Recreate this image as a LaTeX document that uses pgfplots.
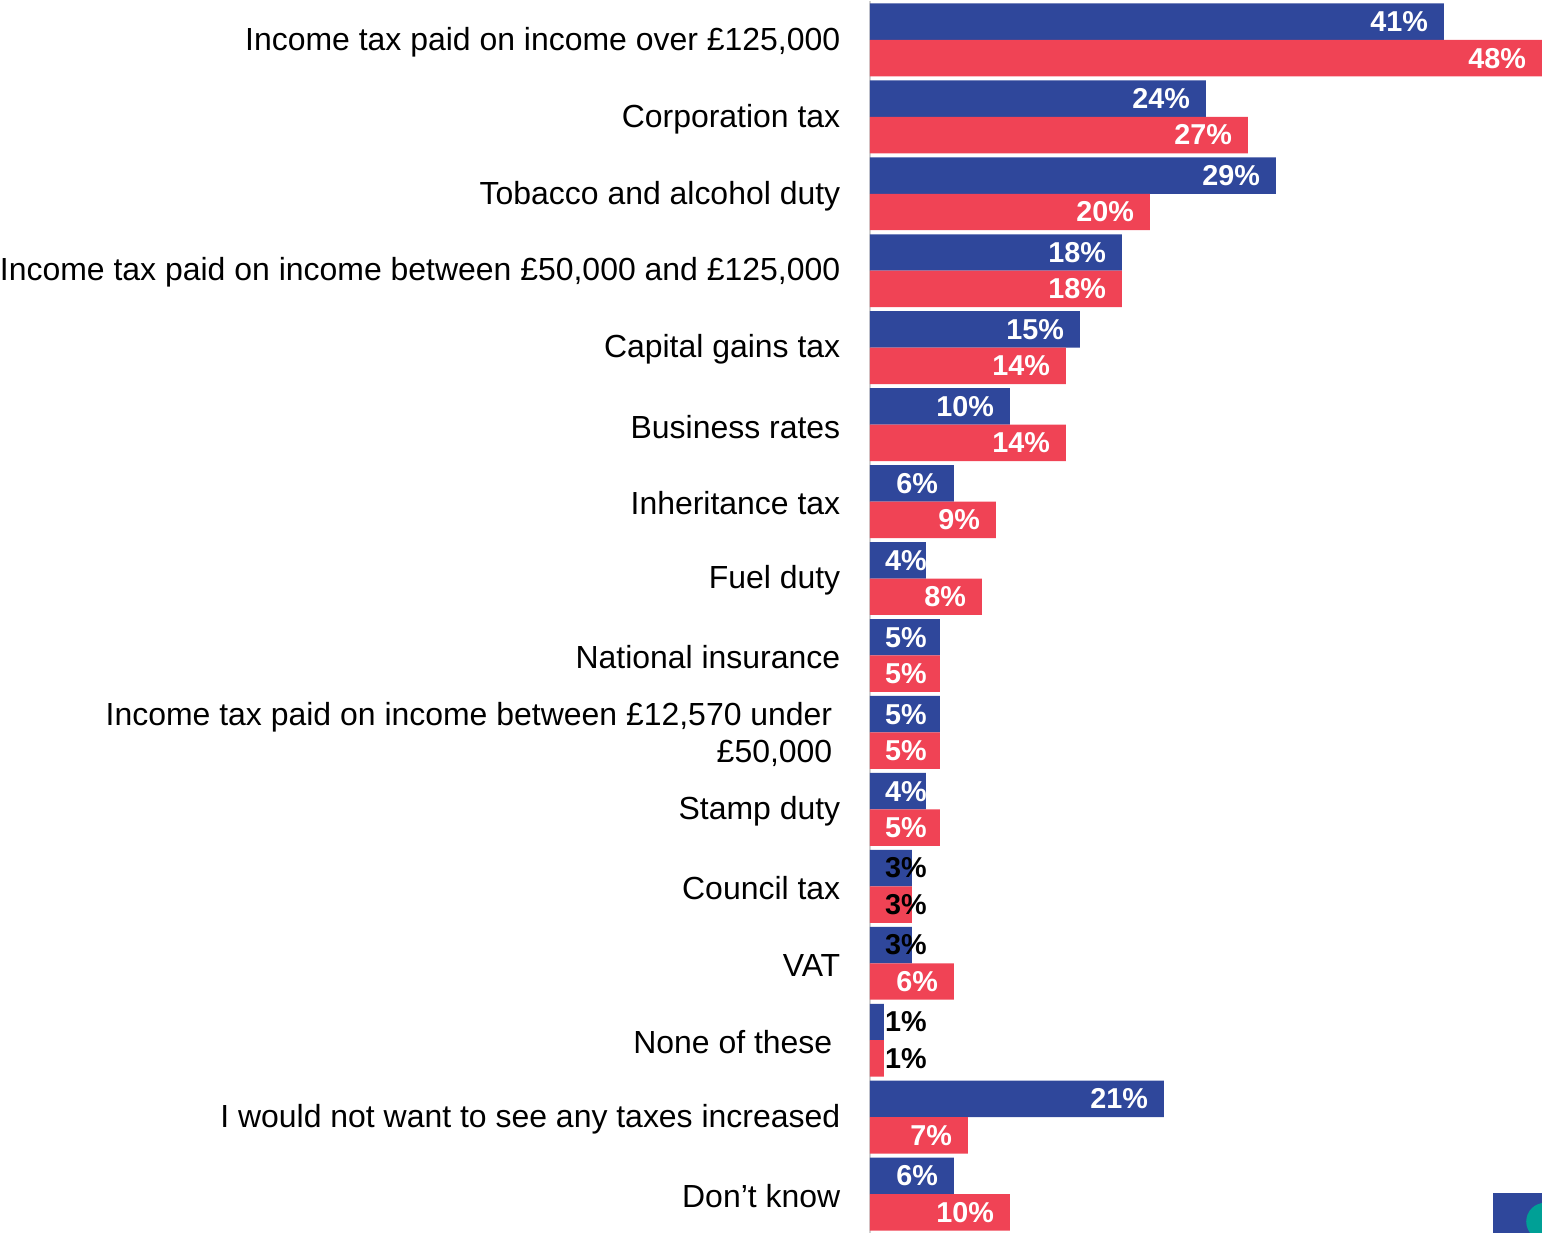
\documentclass[border=0pt]{standalone}
\usepackage{fontspec}
\setmainfont{Liberation Sans}
\usepackage{pgfplots}
\pgfplotsset{compat=1.18}
\definecolor{cblue}{RGB}{47,71,155}
\definecolor{cred}{RGB}{240,67,85}
\definecolor{cteal}{RGB}{0,160,150}
\begin{document}
\begin{tikzpicture}
\begin{axis}[
  name=ax,
  x=3.5052pt, y=19.2656pt,
  y dir=reverse,
  xmin=0, xmax=48, ymin=-0.5, ymax=15.5,
  axis x line=none,
  axis y line=left,
  y axis line style={-, draw=black!18, line width=0.7pt},
  xtick=\empty,
  ytick={0,...,15},
  yticklabels={
    {Income tax paid on income over £125,000},
    {Corporation tax},
    {Tobacco and alcohol duty},
    {Income tax paid on income between £50,000 and £125,000},
    {Capital gains tax},
    {Business rates},
    {Inheritance tax},
    {Fuel duty},
    {National insurance},
    {Income tax paid on income between £12,570 under\rule{2pt}{0pt}\\£50,000\rule{2pt}{0pt}},
    {Stamp duty},
    {Council tax},
    {VAT},
    {None of these\rule{2pt}{0pt}},
    {I would not want to see any taxes increased},
    {Don’t know}},
  major tick length=0pt,
  yticklabel style={font=\fontsize{8}{9.25}\selectfont, align=right, inner sep=0pt, yshift=-0.5pt},
  yticklabel shift=7.25pt,
  /pgf/number format/assume math mode=true,
  xbar, bar width=9.125pt,
  point meta=x,
  nodes near coords={\pgfmathprintnumber{\pgfplotspointmeta}\%},
  every node near coord/.append style={font=\bfseries\fontsize{7.2}{8.6}\selectfont, anchor=east, inner sep=0pt, xshift=-3.8pt},
  coordinate style/.condition={x>3.5}{text=white},
  coordinate style/.condition={x<1.5}{text=black, xshift=14.695pt},
  coordinate style/.condition={x>2.5 && x<3.5}{text=black, xshift=7.684pt},
  coordinate style/.condition={x>3.5 && x<4.5}{xshift=4.179pt},
  coordinate style/.condition={x>4.5 && x<5.5}{xshift=0.674pt},
  clip=false,
]
\addplot[fill=cblue, draw=none, bar shift=4.5625pt] coordinates {
  (41,0) (24,1) (29,2) (18,3) (15,4) (10,5) (6,6) (4,7)
  (5,8) (5,9) (4,10) (3,11) (3,12) (1,13) (21,14) (6,15)};
\addplot[fill=cred, draw=none, bar shift=-4.5625pt] coordinates {
  (48,0) (27,1) (20,2) (18,3) (14,4) (14,5) (9,6) (8,7)
  (5,8) (5,9) (5,10) (3,11) (6,12) (1,13) (7,14) (10,15)};
\end{axis}
\begin{scope}
  \clip ([xshift=-12.25pt,yshift=10pt]ax.south east) rectangle (ax.south east);
  \fill[cblue] ([xshift=-12.25pt,yshift=10pt]ax.south east) rectangle (ax.south east);
  \fill[cteal] ([xshift=0.75pt,yshift=2.75pt]ax.south east) circle (4.7pt);
\end{scope}
\end{tikzpicture}
\end{document}
